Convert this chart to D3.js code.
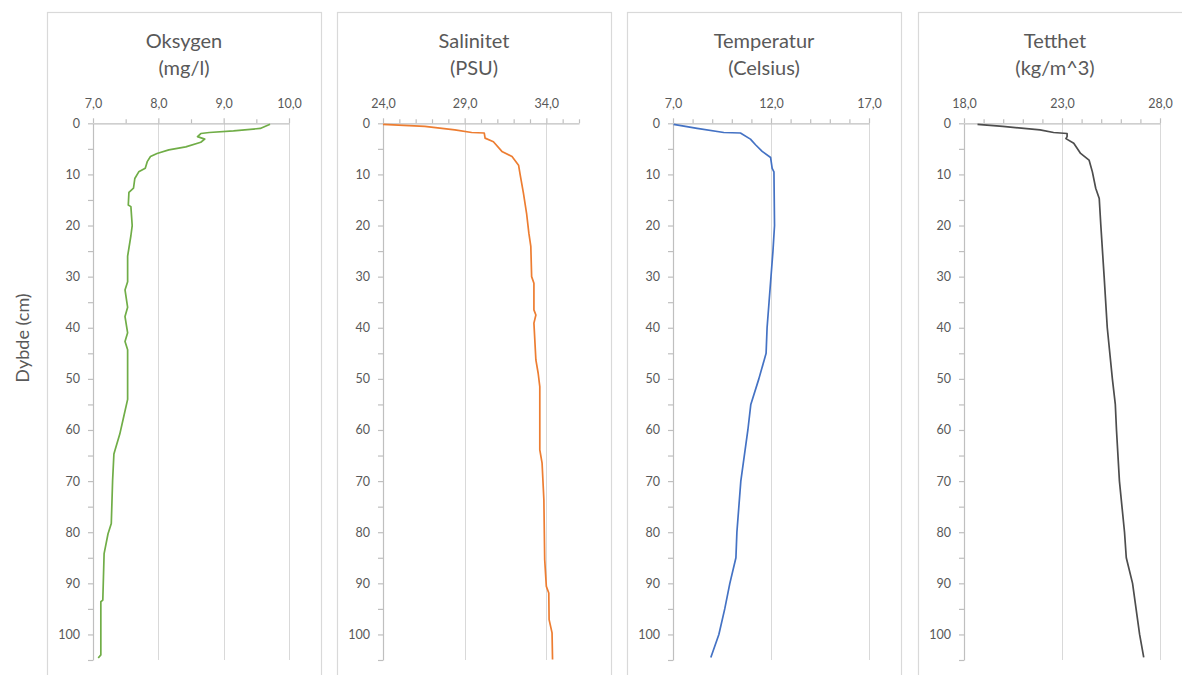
<!DOCTYPE html>
<html>
<head>
<meta charset="utf-8">
<script src="https://cdn.jsdelivr.net/npm/d3@7"></script>
<style>
  body { margin: 0; background: #fff; }
  svg { display: block; }
  text { font-family: Lato, "Open Sans", sans-serif; }
</style>
</head>
<body>
<svg id="chart" width="1182" height="675"></svg>
<script>
// Depth profile: oxygen, salinity, temperature and density vs depth (cm)
const depthLabel = "Dybde (cm)";
const depthMajorTicks = [0, 10, 20, 30, 40, 50, 60, 70, 80, 90, 100];
const depthMinorTicks = [5, 15, 25, 35, 45, 55, 65, 75, 85, 95, 105];
const depthDomain = [0, 105];

// Oksygen (mg/l)
const oxyTitle = ["Oksygen", "(mg/l)"];
const oxyDomain = [7, 10];
const oxyMajorTicks = [7, 8, 9, 10];
const oxyMinorTicks = [7.5, 8.5, 9.5];
const oxyDepth = [0.2, 1.0, 1.5, 1.8, 2.0, 2.6, 3.1, 3.7, 4.6, 5.2, 5.9, 6.5, 7.5, 8.8, 9.5, 10.8, 12.7, 13.5, 16.0, 16.3, 20, 22, 26, 31, 32.6, 36, 37.8, 41, 42.7, 44.3, 54, 57.4, 60.8, 63.4, 64.7, 69.9, 78.3, 80.3, 84.2, 93.3, 93.6, 104, 104.6];
const oxyValues = [9.71, 9.56, 9.15, 8.78, 8.65, 8.60, 8.71, 8.65, 8.42, 8.16, 7.98, 7.88, 7.83, 7.80, 7.70, 7.64, 7.62, 7.55, 7.54, 7.58, 7.60, 7.58, 7.53, 7.53, 7.49, 7.53, 7.49, 7.53, 7.49, 7.53, 7.53, 7.47, 7.41, 7.35, 7.32, 7.30, 7.28, 7.23, 7.17, 7.15, 7.12, 7.12, 7.08];

// Salinitet (PSU)
const salTitle = ["Salinitet", "(PSU)"];
const salDomain = [24, 36];
const salMajorTicks = [24, 29, 34];
const salMinorTicks = [25, 26, 27, 28, 30, 31, 32, 33, 35, 36];
const salDepth = [0.2, 0.6, 1.3, 1.8, 1.9, 2.9, 3.6, 5.5, 6.5, 8.2, 10.1, 13.7, 17.6, 21.5, 24.1, 30, 31.3, 36.5, 37.5, 39.1, 46.3, 48.9, 51.5, 63.9, 66.5, 73.7, 85.4, 90.6, 91.9, 97.1, 99.7, 104.9];
const salValues = [24.0, 26.56, 28.4, 29.43, 30.2, 30.25, 30.76, 31.28, 31.9, 32.3, 32.4, 32.6, 32.79, 32.93, 33.05, 33.1, 33.24, 33.24, 33.36, 33.24, 33.36, 33.5, 33.6, 33.6, 33.74, 33.85, 33.9, 34.0, 34.15, 34.17, 34.35, 34.38];

// Temperatur (Celsius)
const tempTitle = ["Temperatur", "(Celsius)"];
const tempDomain = [7, 17];
const tempMajorTicks = [7, 12, 17];
const tempMinorTicks = [8, 9, 10, 11, 13, 14, 15, 16];
const tempDepth = [0.2, 1.0, 1.8, 1.9, 3.1, 4.2, 5.5, 6.7, 8.8, 9.5, 20, 25, 30, 35, 40, 45, 50, 55, 60, 70, 80, 85, 90, 95, 100, 104.5];
const tempValues = [7.03, 8.23, 9.59, 10.44, 10.95, 11.21, 11.55, 11.98, 12.06, 12.15, 12.18, 12.1, 12.0, 11.9, 11.8, 11.75, 11.38, 10.97, 10.82, 10.46, 10.26, 10.21, 9.9, 9.64, 9.34, 8.93];

// Tetthet (kg/m^3)
const densTitle = ["Tetthet", "(kg/m^3)"];
const densDomain = [18, 28];
const densMajorTicks = [18, 23, 28];
const densMinorTicks = [19, 20, 21, 22, 24, 25, 26, 27];
const densDepth = [0.2, 0.6, 1.3, 1.8, 2.0, 2.6, 3.0, 3.9, 5.9, 7.2, 9.5, 12.7, 14.7, 19.9, 30, 40, 50, 55, 60, 70, 80, 85, 90, 100, 104.5];
const densValues = [18.69, 19.98, 21.88, 22.57, 23.26, 23.26, 23.2, 23.6, 23.95, 24.38, 24.55, 24.72, 24.9, 24.98, 25.15, 25.31, 25.57, 25.72, 25.78, 25.93, 26.19, 26.28, 26.6, 26.96, 27.17];

const panels = [
  { title: oxyTitle, domain: oxyDomain, major: oxyMajorTicks, minor: oxyMinorTicks, depth: oxyDepth, values: oxyValues, color: "#70ad47" },
  { title: salTitle, domain: salDomain, major: salMajorTicks, minor: salMinorTicks, depth: salDepth, values: salValues, color: "#ed7d31" },
  { title: tempTitle, domain: tempDomain, major: tempMajorTicks, minor: tempMinorTicks, depth: tempDepth, values: tempValues, color: "#4472c4" },
  { title: densTitle, domain: densDomain, major: densMajorTicks, minor: densMinorTicks, depth: densDepth, values: densValues, color: "#4d4d4d" }
];

const svg = d3.select("#chart");
const textColor = "#595959";
const axisColor = "#bfbfbf";
const gridColor = "#d9d9d9";

const frameLefts = [47, 337, 627, 918];
const frameWidth = 274;
const frameTop = 12;
const plotOffset = 46;
const plotWidth = 196;
const plotTop = 123.3;
const plotBottom = 660;

const fmt = v => d3.format(".1f")(v).replace(".", ",");

const y = d3.scaleLinear().domain(depthDomain).range([plotTop, plotBottom]);

panels.forEach((p, i) => {
  const fx = frameLefts[i];
  const g = svg.append("g");

  // panel frame (open at the bottom edge of the view)
  g.append("rect")
    .attr("x", fx + 0.5).attr("y", frameTop + 0.5)
    .attr("width", frameWidth).attr("height", 700)
    .attr("fill", "none").attr("stroke", gridColor).attr("stroke-width", 1.2);

  // title
  const t = g.append("text")
    .attr("x", fx + frameWidth / 2)
    .attr("text-anchor", "middle")
    .attr("fill", textColor)
    .attr("font-size", 20);
  t.append("tspan").attr("x", fx + frameWidth / 2).attr("y", 48).text(p.title[0]);
  t.append("tspan").attr("x", fx + frameWidth / 2).attr("y", 75).text(p.title[1]);

  const x0 = fx + plotOffset;
  const x = d3.scaleLinear().domain(p.domain).range([x0, x0 + plotWidth]);

  // vertical gridlines at labelled values
  g.append("g").selectAll("line")
    .data(p.major.filter(v => v !== p.domain[0]))
    .join("line")
    .attr("x1", d => Math.round(x(d)) + 0.5).attr("x2", d => Math.round(x(d)) + 0.5)
    .attr("y1", plotTop).attr("y2", plotBottom)
    .attr("stroke", gridColor).attr("stroke-width", 1);

  // top value axis
  g.append("g")
    .attr("transform", `translate(0,${plotTop})`)
    .call(d3.axisTop(x).tickValues(p.major).tickSize(5).tickSizeOuter(0).tickPadding(10).tickFormat(fmt));
  g.append("g")
    .attr("transform", `translate(0,${plotTop})`)
    .call(d3.axisTop(x).tickValues(p.minor).tickSize(4).tickFormat(""))
    .call(a => a.select(".domain").remove());

  // depth axis
  g.append("g")
    .attr("transform", `translate(${x0},0)`)
    .call(d3.axisLeft(y).tickValues(depthMajorTicks).tickSize(5).tickSizeOuter(0).tickPadding(8).tickFormat(d3.format("d")));
  g.append("g")
    .attr("transform", `translate(${x0},0)`)
    .call(d3.axisLeft(y).tickValues(depthMinorTicks).tickSize(5).tickFormat(""))
    .call(a => a.select(".domain").remove());

  g.selectAll(".domain, .tick line").attr("stroke", axisColor).attr("stroke-width", 1.2);
  g.selectAll(".tick text").attr("fill", textColor).attr("font-size", 12.5)
    .attr("font-family", "Lato, 'Open Sans', sans-serif");

  // profile line
  const pts = p.depth.map((d, k) => [p.values[k], d]);
  g.append("path")
    .datum(pts)
    .attr("fill", "none")
    .attr("stroke", p.color)
    .attr("stroke-width", 1.7)
    .attr("stroke-linejoin", "round")
    .attr("d", d3.line().x(d => x(d[0])).y(d => y(d[1])));
});

// shared depth label
svg.append("text")
  .attr("transform", "translate(22,338) rotate(-90)")
  .attr("text-anchor", "middle")
  .attr("dominant-baseline", "central")
  .attr("fill", textColor)
  .attr("font-size", 18)
  .text(depthLabel);
</script>
</body>
</html>
